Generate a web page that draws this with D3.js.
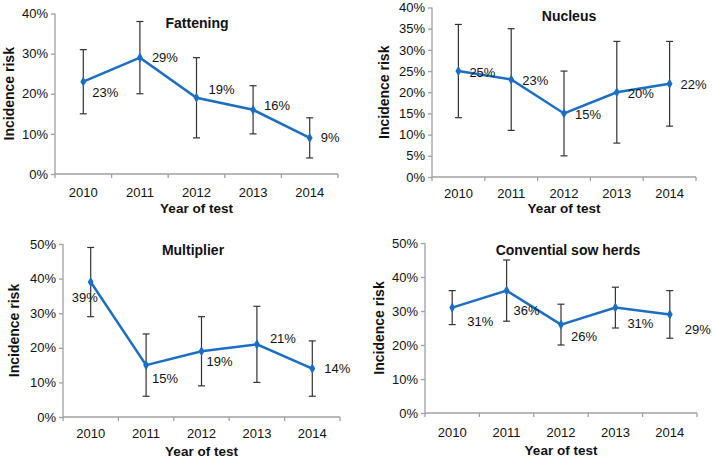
<!DOCTYPE html>
<html><head><meta charset="utf-8">
<script src="https://cdn.jsdelivr.net/npm/d3@7"></script>
<style>body{margin:0;background:#fff}svg{display:block}text{font-family:"Liberation Sans",Arial,sans-serif;fill:#111}</style>
</head><body><svg id="c" width="712" height="461"></svg>
<script>
const years = ["2010","2011","2012","2013","2014"];
const titles = ["Fattening","Nucleus","Multiplier","Convential sow herds"];
const fattening = [23,29,19,16,9];
const fatteningLow = [15,20,9,10,4];
const fatteningHigh = [31,38,29,22,14];
const nucleus = [25,23,15,20,22];
const nucleusLow = [14,11,5,8,12];
const nucleusHigh = [36,35,25,32,32];
const multiplier = [39,15,19,21,14];
const multiplierLow = [29,6,9,10,6];
const multiplierHigh = [49,24,29,32,22];
const conventional = [31,36,26,31,29];
const conventionalLow = [26,27,20,25,22];
const conventionalHigh = [36,45,32,37,36];
const yMaxes = [40,40,50,50];
const yStepsTicks = [10,5,10,10];

// layout (positions kept separate from data)
const layouts = [
  {x0:55,x1:338,yTop:13.5,yBot:174,yTitleX:9,titleX:197,titleY:28,xLabY:213,tickY:192,
   lab:[[9,11],[12,0],[12,-8],[11,-4],[11,0]]},
  {x0:432,x1:696,yTop:7.5,yBot:177,yTitleX:384,titleX:569,titleY:21,xLabY:213,tickY:193,
   lab:[[11,1],[11,1],[11,1],[11,1],[11,1]]},
  {x0:63,x1:340,yTop:244,yBot:417,yTitleX:14,titleX:193,titleY:255,xLabY:456,tickY:433,
   lab:[[-19,15],[6,13],[5,10],[13,-6],[12,0]]},
  {x0:425,x1:697,yTop:243,yBot:413,yTitleX:379,titleX:568,titleY:255,xLabY:455,tickY:432,
   lab:[[15,14],[7,20],[10,12],[12,16],[15,15]]}
];
const series = [
  [fattening,fatteningLow,fatteningHigh],
  [nucleus,nucleusLow,nucleusHigh],
  [multiplier,multiplierLow,multiplierHigh],
  [conventional,conventionalLow,conventionalHigh]
];
const svg = d3.select("#c");
const blue = "#1b6ec2";
series.forEach((s,i)=>{
  const L = layouts[i];
  const [vals,lo,hi] = s;
  const g = svg.append("g");
  const x = d3.scaleBand().domain(years).range([L.x0,L.x1]);
  const y = d3.scaleLinear().domain([0,yMaxes[i]]).range([L.yBot,L.yTop]);
  const ticks = d3.range(0,yMaxes[i]+0.001,yStepsTicks[i]);
  const ya = g.append("g").attr("transform",`translate(${L.x0},0)`)
    .call(d3.axisLeft(y).tickValues(ticks).tickFormat(d=>d+"%").tickSize(4).tickPadding(3));
  const xa = g.append("g").attr("transform",`translate(0,${L.yBot})`)
    .call(d3.axisBottom(x).tickSize(0).tickPadding(0));
  [ya,xa].forEach(a=>{
    a.select(".domain").attr("stroke","#a0a0a0").attr("stroke-width",1.3);
    a.selectAll(".tick line").attr("stroke","#a0a0a0").attr("stroke-width",1.3);
    a.selectAll("text").attr("font-size",13).attr("fill","#111").attr("font-family","Liberation Sans, Arial, sans-serif");
  });
  ya.select(".domain").attr("d",`M-0,${L.yBot}V${L.yTop}`);
  xa.select(".domain").attr("d",`M${L.x0},0H${L.x1}`);
  xa.selectAll("text").attr("y",L.tickY-L.yBot).attr("dy","0.35em");
  xa.selectAll(".bt").data(years.map(d=>x(d)+x.bandwidth()).concat([L.x0])).enter().append("line")
    .attr("x1",d=>d).attr("x2",d=>d).attr("y1",0).attr("y2",4)
    .attr("stroke","#a0a0a0").attr("stroke-width",1.3);
  const cx = d => x(d)+x.bandwidth()/2;
  const eb = g.append("g").attr("stroke","#333").attr("stroke-width",1.2);
  years.forEach((yr,j)=>{
    eb.append("line").attr("x1",cx(yr)).attr("x2",cx(yr)).attr("y1",y(lo[j])).attr("y2",y(hi[j]));
    eb.append("line").attr("x1",cx(yr)-3.5).attr("x2",cx(yr)+3.5).attr("y1",y(lo[j])).attr("y2",y(lo[j]));
    eb.append("line").attr("x1",cx(yr)-3.5).attr("x2",cx(yr)+3.5).attr("y1",y(hi[j])).attr("y2",y(hi[j]));
  });
  g.append("path").datum(vals).attr("fill","none").attr("stroke",blue).attr("stroke-width",2.5)
    .attr("d",d3.line().x((d,j)=>cx(years[j])).y(d=>y(d)));
  g.selectAll(".pt").data(vals).enter().append("path")
    .attr("transform",(d,j)=>`translate(${cx(years[j])},${y(d)})`)
    .attr("d",d3.symbol(d3.symbolDiamond,30)).attr("fill",blue);
  g.selectAll(".vl").data(vals).enter().append("text")
    .attr("x",(d,j)=>cx(years[j])+L.lab[j][0]).attr("y",(d,j)=>y(d)+L.lab[j][1])
    .attr("dy","0.35em").attr("font-size",13).text(d=>d+"%");
  g.append("text").attr("x",L.titleX).attr("y",L.titleY).attr("text-anchor","middle")
    .attr("font-size",14).attr("font-weight","bold").text(titles[i]);
  g.append("text").attr("x",(L.x0+L.x1)/2).attr("y",L.xLabY).attr("text-anchor","middle")
    .attr("font-size",13.5).attr("font-weight","bold").text("Year of test");
  g.append("text").attr("transform",`translate(${L.yTitleX},${(L.yTop+L.yBot)/2}) rotate(-90)`)
    .attr("text-anchor","middle").attr("dy","0.35em")
    .attr("font-size",14).attr("font-weight","bold").text("Incidence risk");
});
</script></body></html>
